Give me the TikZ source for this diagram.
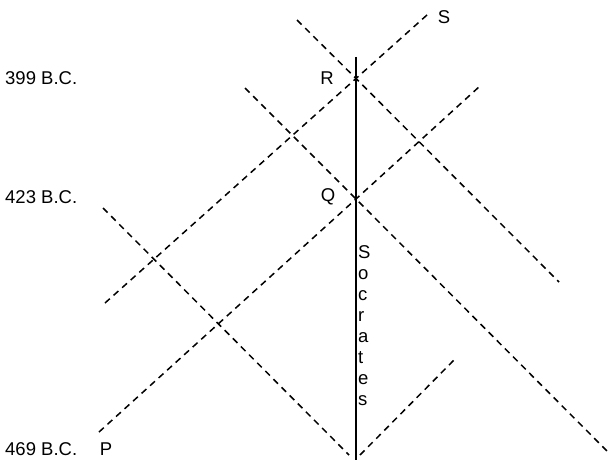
\documentclass[tikz,border=0pt]{standalone}
\usepackage{fontspec}
\setmainfont{Liberation Sans}
\begin{document}
\begin{tikzpicture}[x=1pt,y=-1pt,
  cone/.style={line width=1.5pt,dash pattern=on 6.5pt off 5pt},
  world/.style={line width=1.5pt},
  lbl/.style={inner sep=0pt,font=\fontsize{18.5}{21}\selectfont},
  date/.style={lbl,anchor=west}]
\useasboundingbox (0,0) rectangle (610,460);
% events
\coordinate (P) at (99,432);
\coordinate (Q) at (356,199);
\coordinate (R) at (356,78.5);
\coordinate (W0) at (356,57);
\coordinate (W1) at (356,460);
% line ends
\coordinate (a1) at (480,86);
\coordinate (b0) at (105,303);
\coordinate (b1) at (427,15);
\coordinate (c0) at (297,20);
\coordinate (c1) at (559,282);
\coordinate (d0) at (245,88);
\coordinate (d1) at (608,452);
\coordinate (e0) at (103,208);
\coordinate (e1) at (349,455);
\coordinate (f0) at (360,455);
\coordinate (f1) at (456,358);
% lines
\draw[cone] (P) -- (Q) -- (a1);
\draw[cone] (b0) -- (R) -- (b1);
\draw[cone] (c0) -- (R) -- (c1);
\draw[cone] (d0) -- (Q) -- (d1);
\draw[cone] (e0) -- (e1);
\draw[cone] (f0) -- (f1);
\draw[world] (W0) -- (W1);
% labels
\node[lbl] (Rl) at (327,78) {R};
\node[lbl] (Ql) at (328,197) {Q};
\node[lbl] (Sl) at (444,17) {S};
\node[lbl] (Pl) at (106,449) {P};
\node[date] (d399) at (5,78) {399 B.C.};
\node[date] (d423) at (5,197) {423 B.C.};
\node[date] (d469) at (5,449) {469 B.C.};
\node[lbl,anchor=north west,align=left,font=\fontsize{18.5}{21}\selectfont] (soc) at (358,245) {S\\o\\c\\r\\a\\t\\e\\s};
\end{tikzpicture}
\end{document}
